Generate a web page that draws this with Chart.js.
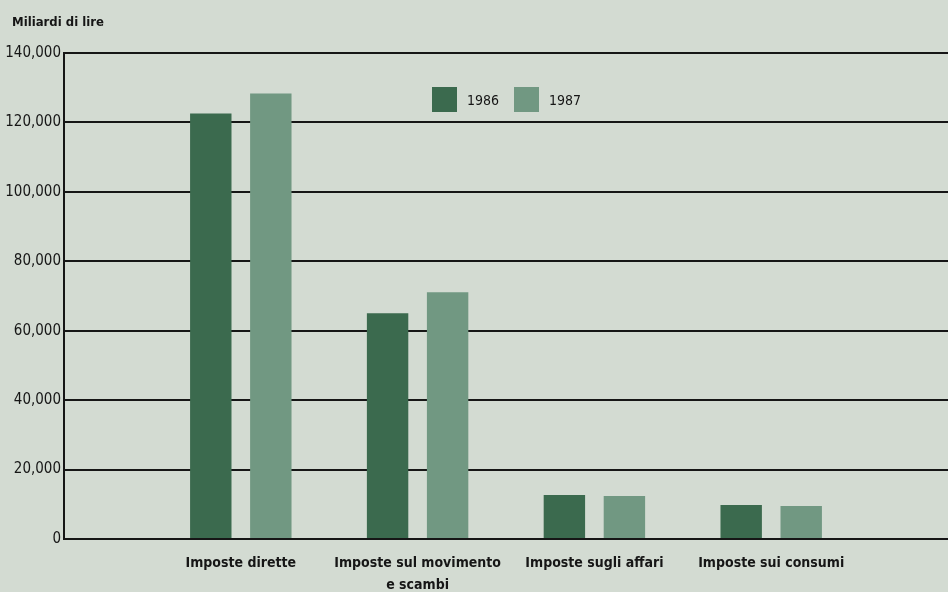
<!DOCTYPE html>
<html>
<head>
<meta charset="utf-8">
<script src="https://cdn.jsdelivr.net/npm/chart.js@4/dist/chart.umd.min.js"></script>
<style>
  html, body { margin: 0; padding: 0; background: #d3dbd2; }
  #wrap { position: relative; width: 948px; height: 592px; }
  #wrap canvas { position: absolute; left: 0; top: 0; }
  .txt { position: absolute; color: #161616; white-space: nowrap;
         font-family: "DejaVu Sans Condensed", "DejaVu Sans", sans-serif; font-stretch: condensed; }
  #titolo { left: 12px; top: 14px; font-size: 13px; font-weight: bold; }
  #legenda { position: absolute; top: 87px; left: 432px; display: flex; align-items: center; }
  #legenda .box { width: 25px; height: 25px; }
  #legenda .lab { font-size: 14px; margin: 0 15px 0 10px; color: #161616;
                  font-family: "DejaVu Sans Condensed", "DejaVu Sans", sans-serif; font-stretch: condensed; }
</style>
</head>
<body>
<div id="wrap">
  <canvas id="chart" width="948" height="592"></canvas>
  <div id="titolo" class="txt">Miliardi di lire</div>
  <div id="legenda"></div>
</div>
<script>
// --- DATI ---
const categorie = [
    'Imposte dirette',
    ['Imposte sul movimento', 'e scambi'],
    'Imposte sugli affari',
    'Imposte sui consumi'
];
const anni = ['1986', '1987'];
const valori1986 = [122600, 65000, 12700, 9800];
const valori1987 = [128300, 71100, 12400, 9500];
const yTicks = [0, 20000, 40000, 60000, 80000, 100000, 120000, 140000];

const colori = ['#3b6a4e', '#719882'];
const FONT = '"DejaVu Sans Condensed", "DejaVu Sans", sans-serif';
const INK = '#161616';

// slot vuoto a sinistra e a destra, come nel grafico originale
const pad = arr => [null, ...arr, null];

// legenda dentro l'area del grafico
const leg = document.getElementById('legenda');
anni.forEach((a, i) => {
    leg.innerHTML += `<span class="box" style="background:${colori[i]}"></span><span class="lab">${a}</span>`;
});

const ctx = document.getElementById('chart').getContext('2d');
new Chart(ctx, {
    type: 'bar',
    data: {
        labels: ['', ...categorie, ''],
        datasets: anni.map((a, i) => ({
            label: a,
            data: pad(i === 0 ? valori1986 : valori1987),
            backgroundColor: colori[i],
            borderWidth: 0
        }))
    },
    options: {
        responsive: false,
        devicePixelRatio: 1,
        animation: false,
        categoryPercentage: 0.679,
        barPercentage: 0.69,
        layout: { padding: { left: 0, right: 0, top: 53, bottom: 0 } },
        plugins: {
            tooltip: { enabled: false },
            title: { display: false },
            legend: { display: false }
        },
        scales: {
            x: {
                offset: false,
                grid: { display: false, drawTicks: false },
                border: { display: false },
                ticks: {
                    autoSkip: false,
                    maxRotation: 0,
                    padding: 14,
                    color: INK,
                    font: { family: FONT, size: 14, weight: 'bold', lineHeight: 1.55 }
                },
                afterFit: s => { s.height = 53; s.paddingLeft = 0; s.paddingRight = 0; }
            },
            y: {
                min: 0,
                max: 140000,
                afterBuildTicks: s => { s.ticks = yTicks.map(v => ({ value: v })); },
                grid: { color: INK, lineWidth: 2, drawTicks: false },
                border: { display: true, color: INK, width: 2 },
                ticks: {
                    padding: 3,
                    color: INK,
                    font: { family: FONT, size: 15 },
                    callback: v => v.toLocaleString('en-US')
                },
                afterFit: s => { s.width = 64; s.paddingTop = 0; s.paddingBottom = 0; }
            }
        }
    }
});
</script>
</body>
</html>
